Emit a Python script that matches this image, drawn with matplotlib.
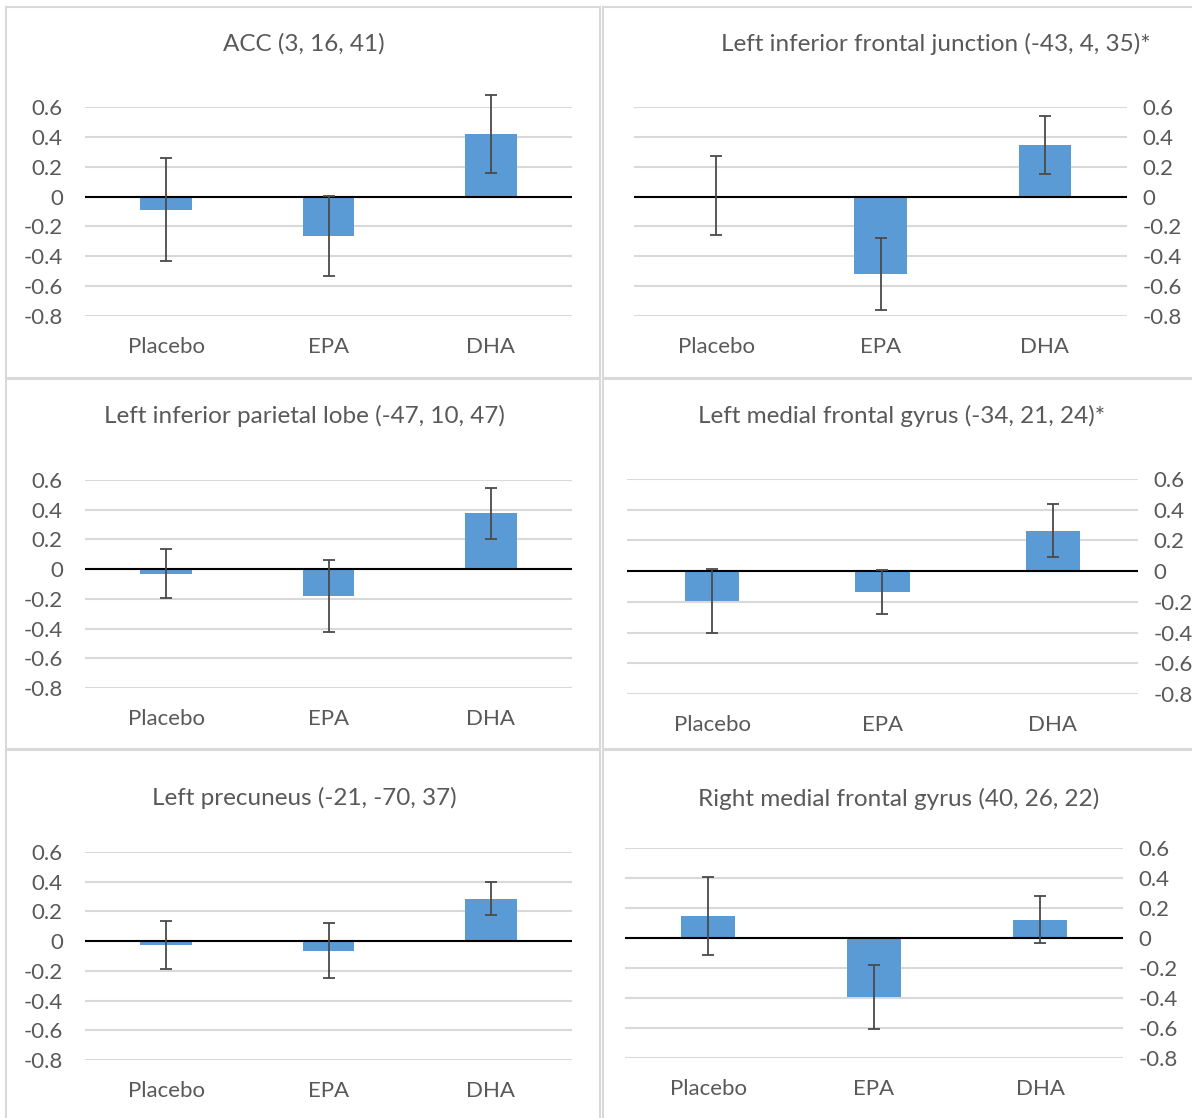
import matplotlib
matplotlib.use("Agg")
import matplotlib.pyplot as plt
from matplotlib.patches import Rectangle

plt.rcParams['font.family'] = ['Lato', 'DejaVu Sans']

W, H = 1192, 1118

groups = ["Placebo", "EPA", "DHA"]

titles = [
    "ACC (3, 16, 41)",
    "Left inferior frontal junction (-43, 4, 35)*",
    "Left inferior parietal lobe (-47, 10, 47)",
    "Left medial frontal gyrus (-34, 21, 24)*",
    "Left precuneus (-21, -70, 37)",
    "Right medial frontal gyrus (40, 26, 22)",
]

acc_vals = [-0.087, -0.264, 0.42]
acc_err = [0.343, 0.268, 0.26]
lifj_vals = [0.005, -0.517, 0.347]
lifj_err = [0.265, 0.242, 0.193]
lipl_vals = [-0.03, -0.18, 0.375]
lipl_err = [0.165, 0.243, 0.173]
lmfg_vals = [-0.197, -0.136, 0.263]
lmfg_err = [0.208, 0.143, 0.172]
lprec_vals = [-0.025, -0.065, 0.286]
lprec_err = [0.163, 0.184, 0.111]
rmfg_vals = [0.15, -0.393, 0.122]
rmfg_err = [0.26, 0.211, 0.158]

values = [acc_vals, lifj_vals, lipl_vals, lmfg_vals, lprec_vals, rmfg_vals]
errors = [acc_err, lifj_err, lipl_err, lmfg_err, lprec_err, rmfg_err]

yticks = [-0.8, -0.6, -0.4, -0.2, 0, 0.2, 0.4, 0.6]
ytick_labels = ["-0.8", "-0.6", "-0.4", "-0.2", "0", "0.2", "0.4", "0.6"]

# layout in pixels: plot box (x0, x1, y_top, y_bottom), title centre (x, y), right-side ticks
layout = [
    (85, 572, 107, 316, 304, 44, False),
    (634, 1127, 107, 316, 936, 44, True),
    (85, 572, 480, 688, 304, 416, False),
    (627, 1138, 479, 694, 902, 416, True),
    (85, 572, 852, 1060, 304, 798, False),
    (625, 1123, 848, 1058, 899, 799, True),
]

# panel frames
frames = [
    (6, 7, 600, 378), (603, 7, 1200, 378),
    (6, 379, 600, 749), (603, 379, 1200, 749),
    (6, 750, 600, 1125), (603, 750, 1200, 1125),
]

text_col = "#595959"
bar_col = "#5B9BD5"
grid_col = "#D9D9D9"

fig = plt.figure(figsize=(W / 100, H / 100), dpi=100)

for fx0, fy0, fx1, fy1 in frames:
    fig.patches.append(Rectangle((fx0 / W, 1 - fy1 / H), (fx1 - fx0) / W, (fy1 - fy0) / H,
                                 transform=fig.transFigure, fill=False,
                                 edgecolor=grid_col, linewidth=1.5))

for i in range(6):
    x0, x1, yt, yb, tx, ty, right = layout[i]
    ax = fig.add_axes([x0 / W, 1 - yb / H, (x1 - x0) / W, (yb - yt) / H])
    xs = range(len(groups))
    ax.bar(xs, values[i], width=0.32, color=bar_col, zorder=2)
    ax.errorbar(xs, values[i], yerr=errors[i], fmt='none', ecolor="#4a4a4a",
                elinewidth=1.3, capsize=4, capthick=1.3, zorder=4, clip_on=False)
    ax.axhline(0, color="black", linewidth=1.5, zorder=3)
    ax.set_xlim(-0.5, 2.5)
    ax.set_ylim(-0.8, 0.6)
    ax.set_yticks(yticks)
    ax.set_yticklabels(ytick_labels)
    ax.set_xticks(list(xs))
    ax.set_xticklabels(groups)
    ax.grid(axis='y', color=grid_col, linewidth=1.5, zorder=0)
    ax.set_axisbelow(True)
    for s in ax.spines.values():
        s.set_visible(False)
    ax.tick_params(axis='both', length=0, labelsize=16, labelcolor=text_col)
    ax.tick_params(axis='x', pad=15)
    if right:
        ax.yaxis.tick_right()
        ax.tick_params(axis='y', pad=11)
    else:
        ax.tick_params(axis='y', pad=16)
    fig.text(tx / W, 1 - ty / H, titles[i], ha='center', va='center',
             fontsize=17.5, color=text_col)

fig.savefig("out.png", dpi=100, facecolor="white")
